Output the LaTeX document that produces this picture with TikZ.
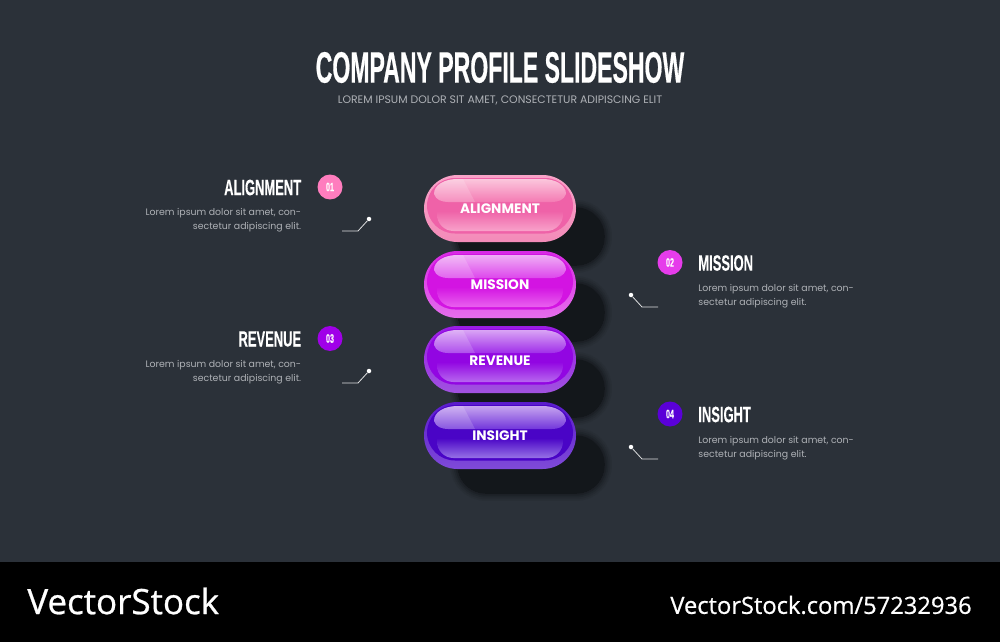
\documentclass[tikz,border=0pt]{standalone}
\usepackage{fontspec}
\setmainfont{Poppins}
\newfontfamily\titlefont[FakeStretch=0.525,FakeBold=0.4]{Liberation Sans}
\newfontfamily\headfont[FakeStretch=0.585,FakeBold=0.2]{Liberation Sans}
\newfontfamily\brandfont[FakeBold=0.7]{Open Sans}
\usetikzlibrary{positioning}
\definecolor{slatebg}{HTML}{2B3139}
\definecolor{shadowink}{HTML}{13171B}
\definecolor{loremgrey}{HTML}{AEB1B6}
\definecolor{discpink}{HTML}{FF7DBE}
\definecolor{discmagenta}{HTML}{E63CEB}
\definecolor{discpurple}{HTML}{A000E8}
\definecolor{discindigo}{HTML}{5A00D8}
\tikzset{
  titletext/.style={inner sep=0,text=white,font=\titlefont\bfseries\fontsize{25}{28}\selectfont},
  subtext/.style={inner sep=0,text=loremgrey,font=\fontsize{6.2}{8}\selectfont},
  headtext/.style={inner sep=0,text=white,font=\headfont\bfseries\fontsize{12.6}{14}\selectfont},
  bodytext/.style={inner sep=0,text=loremgrey,font=\fontsize{5.34}{7.94}\selectfont},
  pilltext/.style={inner sep=0,text=white,font=\bfseries\fontsize{7.8}{9}\selectfont},
  numdisc/.style={circle,minimum size=0.5cm,inner sep=0,text=white,font=\headfont\bfseries\fontsize{7}{8}\selectfont},
  leaddot/.style={circle,fill=white,minimum size=0.09cm,inner sep=0},
  leadline/.style={draw=white!85!slatebg,line width=0.45pt},
  brandtext/.style={inner sep=0,text=white},
}
% #1 top of pill, then rim top, ring, rim foot, highlight top, highlight foot, lower foot
\newcommand{\candypill}[7]{
  \definecolor{rimtop}{HTML}{#2}
  \definecolor{pillring}{HTML}{#3}
  \definecolor{pillrim}{HTML}{#4}
  \definecolor{glosstop}{HTML}{#5}
  \definecolor{glossfoot}{HTML}{#6}
  \definecolor{lowerfoot}{HTML}{#7}
  \begin{scope}[yshift=-#1*0.02cm]
    \shade[top color=rimtop,bottom color=pillrim,rounded corners=0.67cm] (424,0) rectangle (576,67);
    \fill[pillring,rounded corners=0.56cm] (427,3) rectangle (573,58.5);
    \begin{scope}
      \path[clip,rounded corners=0.33cm] (437,23) rectangle (563,56);
      \shade[top color=pillring,bottom color=lowerfoot] (437,36) rectangle (563,56);
    \end{scope}
    \begin{scope}
      \path[clip] (458,4) -- (542,4) .. controls (556,4) and (566,10) .. (566,19) .. controls (564,25) and (558,27) .. (552,27) -- (448,27) .. controls (442,27) and (436,25) .. (434,19) .. controls (434,10) and (444,4) .. (458,4) -- cycle;
      \shade[top color=glosstop,middle color=glosstop!50!glossfoot,bottom color=glossfoot] (430,4) rectangle (570,27);
      \fill[white,opacity=0.16] (430,4) -- (463,4) -- (475,27) -- (430,27) -- cycle;
    \end{scope}
  \end{scope}
}
\begin{document}
\begin{tikzpicture}[x=0.02cm,y=-0.02cm]
\fill[slatebg] (0,0) rectangle (1000,642);
\fill[black] (0,562) rectangle (1000,642);
% soft shadows, halo first
\foreach \w/\m in {9/12,7/26,5/44,3/64,1/84,0/100}{
  \foreach \t in {208,284,360,436}{
    \fill[shadowink!\m!slatebg,rounded corners=0.56cm,line width=\w pt,draw=shadowink!\m!slatebg] (458,\t) rectangle (604,\t+57);
  }
}
\candypill{175}{F9A3C8}{EF62A8}{F38BB9}{FBC6DC}{F47AB3}{F8A2CA}
\candypill{251}{D82AE4}{D314E2}{E56EEC}{EFAEF5}{DD46EC}{E960EF}
\candypill{326}{9A1CE4}{9206E2}{A052E0}{D9A4F5}{A02EE9}{B768EF}
\candypill{402}{5A1CCC}{4A04C6}{7F4AD8}{C6A4EF}{7236DB}{9672E6}
\node[pilltext] (pillA) at (500,209) {ALIGNMENT};
\node[pilltext] (pillB) at (500,285) {MISSION};
\node[pilltext] (pillC) at (500,361) {REVENUE};
\node[pilltext] (pillD) at (500,436) {INSIGHT};
\node[titletext] (title) at (500,67.5) {COMPANY PROFILE SLIDESHOW};
\node[subtext] (subtitle) at (500,100.5) {LOREM IPSUM DOLOR SIT AMET, CONSECTETUR ADIPISCING ELIT};
% left column
\node[numdisc,fill=discpink] (discA) at (330,187) {01};
\node[headtext,anchor=east] (headA) at (301.5,187.5) {ALIGNMENT};
\node[bodytext,anchor=east,align=right] (bodyA) at (301.5,220.5) {Lorem ipsum dolor sit amet, con-\\sectetur adipiscing elit.};
\node[numdisc,fill=discpurple] (discC) at (330,338.5) {03};
\node[headtext,anchor=east] (headC) at (301.5,339) {REVENUE};
\node[bodytext,anchor=east,align=right] (bodyC) at (301.5,372.5) {Lorem ipsum dolor sit amet, con-\\sectetur adipiscing elit.};
% right column
\node[numdisc,fill=discmagenta] (discB) at (670,262.5) {02};
\node[headtext,anchor=west] (headB) at (698,263) {MISSION};
\node[bodytext,anchor=west,align=left] (bodyB) at (698,296.5) {Lorem ipsum dolor sit amet, con-\\sectetur adipiscing elit.};
\node[numdisc,fill=discindigo] (discD) at (670,414) {04};
\node[headtext,anchor=west] (headD) at (698,414.5) {INSIGHT};
\node[bodytext,anchor=west,align=left] (bodyD) at (698,448) {Lorem ipsum dolor sit amet, con-\\sectetur adipiscing elit.};
% leader lines
\node[leaddot] (dotA) at (369,219) {};
\node[leaddot] (dotC) at (369,371) {};
\node[leaddot] (dotB) at (631,295) {};
\node[leaddot] (dotD) at (631,447) {};
\coordinate (tailA) at (342,231);
\coordinate (tailC) at (342,383);
\coordinate (tailB) at (658,307);
\coordinate (tailD) at (658,459);
\draw[leadline] (tailA) -- ++(16,0) -- (dotA);
\draw[leadline] (tailC) -- ++(16,0) -- (dotC);
\draw[leadline] (tailB) -- ++(-16,0) -- (dotB);
\draw[leadline] (tailD) -- ++(-16,0) -- (dotD);
% footer
\node[brandtext,anchor=west,font=\brandfont\fontsize{19.9}{24}\selectfont] (brandL) at (27,601) {VectorStock};
\node[brandtext,anchor=east,font=\brandfont\fontsize{13.5}{16}\selectfont] (brandR) at (972,605) {VectorStock.com/57232936};
\end{tikzpicture}
\end{document}
